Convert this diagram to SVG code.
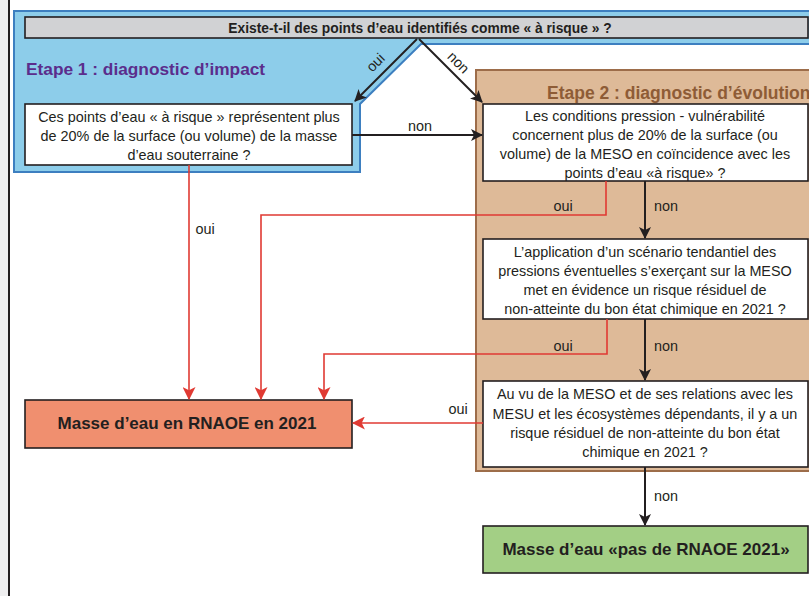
<svg xmlns="http://www.w3.org/2000/svg" width="809" height="596" viewBox="0 0 809 596">
<defs>
<style>
.t{font-family:"Liberation Sans",Arial,sans-serif;font-size:14.4px;fill:#231f20;text-anchor:middle}
.b{font-family:"Liberation Sans",Arial,sans-serif;font-weight:bold;fill:#231f20;text-anchor:middle}
.box{fill:#ffffff;stroke:#231f20;stroke-width:1.6}
.bl{stroke:#231f20;stroke-width:2;fill:none}
.rd{stroke:#e03a33;stroke-width:1.6;fill:none}
</style>
<marker id="ab" viewBox="0 0 12 12" refX="11" refY="6" markerWidth="12" markerHeight="12" markerUnits="userSpaceOnUse" orient="auto">
<path d="M0,0 L12,6 L0,12 L3,6 Z" fill="#231f20"/>
</marker>
<marker id="ar" viewBox="0 0 12 12" refX="11" refY="6" markerWidth="13" markerHeight="13" markerUnits="userSpaceOnUse" orient="auto">
<path d="M0,0 L12,6 L0,12 L3,6 Z" fill="#e03a33"/>
</marker>
</defs>
<rect x="0" y="0" width="809" height="596" fill="#ffffff"/>
<rect x="0" y="0" width="8" height="596" fill="#efeff0"/>
<line x1="9" y1="0" x2="9" y2="596" stroke="#231f20" stroke-width="2"/>

<g id="etape1">
<polygon points="14,11 812,11 812,44 421,44 360,104 360,172 14,172" fill="#8dcdea" stroke="#3d7fc0" stroke-width="2"/>
<text x="26" y="75" font-family="Liberation Sans,Arial,sans-serif" font-weight="bold" font-size="17.3" fill="#5b2d8c">Etape 1 : diagnostic d’impact</text>
</g>

<g id="etape2">
<rect x="476" y="70" width="340" height="401" fill="#deba98" stroke="#9d6d4a" stroke-width="2"/>
<text x="547" y="99" font-family="Liberation Sans,Arial,sans-serif" font-weight="bold" font-size="17.5" fill="#8e5c36">Etape 2 : diagnostic d’évolution</text>
</g>

<g id="question">
<rect x="25" y="17" width="783" height="21" fill="#d1d2d4" stroke="#231f20" stroke-width="1.6"/>
<text class="b" x="420" y="32.5" font-size="13.8">Existe-t-il des points d’eau identifiés comme « à risque » ?</text>
</g>

<g id="box1">
<rect class="box" x="25" y="104" width="327" height="61"/>
<text class="t" x="189" y="122">Ces points d’eau « à risque » représentent plus</text>
<text class="t" x="189" y="141">de 20% de la surface (ou volume) de la masse</text>
<text class="t" x="189" y="160">d’eau souterraine ?</text>
</g>

<g id="box2">
<rect class="box" x="483" y="104" width="325" height="77"/>
<text class="t" x="645" y="121">Les conditions pression - vulnérabilité</text>
<text class="t" x="645" y="140">concernent plus de 20% de la surface (ou</text>
<text class="t" x="645" y="159">volume) de la MESO en coïncidence avec les</text>
<text class="t" x="645" y="178">points d’eau «à risque»  ?</text>
</g>

<g id="box3">
<rect class="box" x="483" y="239" width="325" height="80"/>
<text class="t" x="645" y="257">L’application d’un scénario tendantiel des</text>
<text class="t" x="645" y="276">pressions éventuelles s’exerçant sur la MESO</text>
<text class="t" x="645" y="295">met en évidence un risque résiduel de</text>
<text class="t" x="645" y="314">non-atteinte du bon état chimique en 2021 ?</text>
</g>

<g id="box4">
<rect class="box" x="483" y="381" width="325" height="86"/>
<text class="t" x="645" y="399">Au vu de la MESO et de ses relations avec les</text>
<text class="t" x="645" y="419">MESU et les écosystèmes dépendants, il y a un</text>
<text class="t" x="645" y="438">risque résiduel de non-atteinte du bon état</text>
<text class="t" x="645" y="457">chimique en 2021 ?</text>
</g>

<g id="rnaoe">
<rect x="25" y="400" width="327" height="48" fill="#f08f6f" stroke="#231f20" stroke-width="1.6"/>
<text class="b" x="187" y="429" font-size="17">Masse d’eau en RNAOE en 2021</text>
</g>

<g id="pasrnaoe">
<rect x="483" y="526" width="325" height="47" fill="#a3cf85" stroke="#231f20" stroke-width="1.6"/>
<text class="b" x="646" y="555" font-size="17">Masse d’eau «pas de RNAOE 2021»</text>
</g>

<g id="connectors">
<line class="bl" x1="417" y1="39" x2="355" y2="101" marker-end="url(#ab)"/>
<line class="bl" x1="419" y1="39" x2="482" y2="102" marker-end="url(#ab)"/>
<line class="bl" x1="352" y1="135" x2="482" y2="135" marker-end="url(#ab)"/>
<line class="bl" x1="645" y1="181" x2="645" y2="238" marker-end="url(#ab)"/>
<line class="bl" x1="645" y1="319" x2="645" y2="380" marker-end="url(#ab)"/>
<line class="bl" x1="645" y1="467" x2="645" y2="525" marker-end="url(#ab)"/>
<line class="rd" x1="189" y1="165" x2="189" y2="399" marker-end="url(#ar)"/>
<polyline class="rd" points="606,181 606,215 261,215 261,399" marker-end="url(#ar)"/>
<polyline class="rd" points="607,319 607,354 324,354 324,399" marker-end="url(#ar)"/>
<line class="rd" x1="483" y1="423" x2="353" y2="423" marker-end="url(#ar)"/>
<text class="t" x="0" y="0" transform="translate(379,66) rotate(-45)">oui</text>
<text class="t" x="0" y="0" transform="translate(455,66) rotate(45)">non</text>
<text class="t" x="420" y="131">non</text>
<text class="t" x="205" y="234">oui</text>
<text class="t" x="563" y="211">oui</text>
<text class="t" x="666" y="211">non</text>
<text class="t" x="563" y="351">oui</text>
<text class="t" x="666" y="351">non</text>
<text class="t" x="458" y="414">oui</text>
<text class="t" x="666" y="501">non</text>
</g>
</svg>
